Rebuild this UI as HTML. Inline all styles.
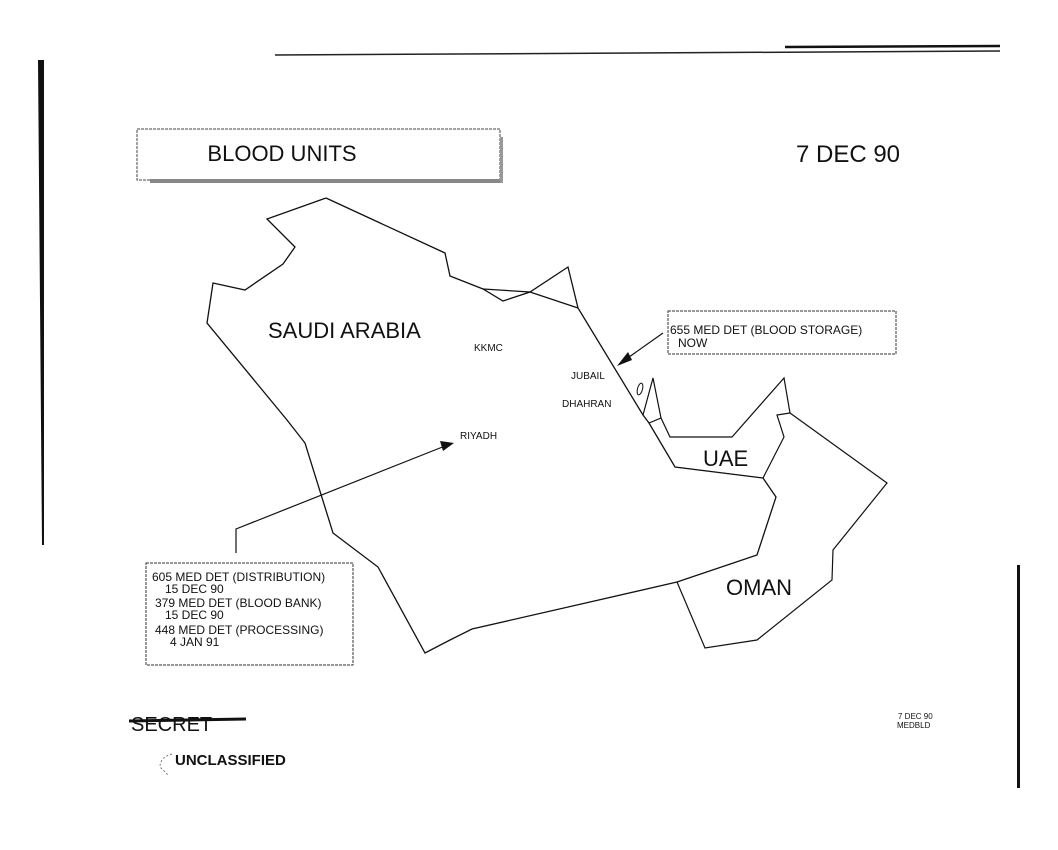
<!DOCTYPE html>
<html><head><meta charset="utf-8"><style>
html,body{margin:0;padding:0;background:#fff;}
svg{display:block;}
text{font-family:"Liberation Sans",Arial,sans-serif;fill:#111;}
</style></head><body>
<svg width="1058" height="850" viewBox="0 0 1058 850" xmlns="http://www.w3.org/2000/svg">
<!-- top line -->
<line x1="275" y1="55" x2="1000" y2="51" stroke="#222" stroke-width="1.5"/>
<line x1="785" y1="47" x2="1000" y2="46" stroke="#111" stroke-width="2.5"/>
<!-- side bars -->
<polygon points="38,60 44,60 44,545 42,545" fill="#111"/>
<rect x="1017" y="565" width="3" height="223" fill="#111"/>
<!-- title box -->
<rect x="137" y="129" width="363" height="51" fill="none" stroke="#444" stroke-width="1" stroke-dasharray="3,1"/>
<rect x="150" y="179" width="352" height="4" fill="#888"/>
<rect x="500" y="137" width="3" height="46" fill="#999"/>
<text x="282" y="161" font-size="22" text-anchor="middle" fill="#333">BLOOD UNITS</text>
<text x="848" y="162" font-size="24" text-anchor="middle">7 DEC 90</text>
<!-- Saudi Arabia -->
<polyline fill="none" stroke="#111" stroke-width="1.3" points="326,198 445,253 450,276 483,289 503,301 530,292 568,267 578,308 643,415 649,423 675,467 763,478 776,497 757,555 677,582 590,602 472,629 450,640 425,653 378,567 333,533 305,443 287,420 207,323 213,283 245,290 283,264 295,247 267,219 326,198"/>
<polyline fill="none" stroke="#111" stroke-width="1.2" points="483,289 530,292 578,308"/>
<!-- Qatar -->
<polyline fill="none" stroke="#111" stroke-width="1.2" points="643,415 653,378 661,418 649,423"/>
<ellipse cx="640" cy="389" rx="2.5" ry="6" fill="none" stroke="#111" stroke-width="1" transform="rotate(15 640 389)"/>
<!-- UAE -->
<polyline fill="none" stroke="#111" stroke-width="1.2" points="661,418 670,437 732,437 784,378 790,413 777,415 784,437 763,478"/>
<!-- Oman -->
<polyline fill="none" stroke="#111" stroke-width="1.2" points="790,413 887,483 833,550 832,580 757,640 705,648 677,582"/>
<!-- labels -->
<text x="268" y="338" font-size="22" fill="#222">SAUDI ARABIA</text>
<text x="474" y="351" font-size="10">KKMC</text>
<text x="571" y="379" font-size="10">JUBAIL</text>
<text x="562" y="407" font-size="10">DHAHRAN</text>
<text x="460" y="439" font-size="10">RIYADH</text>
<text x="703" y="466" font-size="22">UAE</text>
<text x="726" y="595" font-size="22">OMAN</text>
<!-- 655 box -->
<rect x="668" y="311" width="228" height="43" fill="none" stroke="#333" stroke-dasharray="3,1"/>
<text x="670" y="334" font-size="12">655 MED DET (BLOOD STORAGE)</text>
<text x="678" y="347" font-size="12">NOW</text>
<line x1="663" y1="333" x2="622" y2="362" stroke="#111" stroke-width="1.2"/>
<polygon points="617,366 628,352 632,360" fill="#111"/>
<!-- riyadh arrow -->
<polyline fill="none" stroke="#111" stroke-width="1.2" points="236,553 236,529 445,446"/>
<polygon points="454,443 440,441 443,451" fill="#111"/>
<!-- left box -->
<rect x="146" y="563" width="207" height="102" fill="none" stroke="#333" stroke-dasharray="3,1"/>
<text x="152" y="581" font-size="12">605 MED DET (DISTRIBUTION)</text>
<text x="165" y="593" font-size="12">15 DEC 90</text>
<text x="155" y="607" font-size="12">379 MED DET (BLOOD BANK)</text>
<text x="165" y="619" font-size="12">15 DEC 90</text>
<text x="155" y="634" font-size="12">448 MED DET (PROCESSING)</text>
<text x="170" y="646" font-size="12">4 JAN 91</text>
<!-- footer -->
<text x="131" y="731" font-size="20" fill="#222">SECRET</text>
<line x1="129" y1="721" x2="246" y2="719" stroke="#111" stroke-width="3"/>
<text x="175" y="765" font-size="15" font-weight="bold">UNCLASSIFIED</text>
<path d="M172,754 Q160,757 160,767 L168,775" fill="none" stroke="#777" stroke-dasharray="2,2"/>
<text x="898" y="719" font-size="8">7 DEC 90</text>
<text x="897" y="728" font-size="8">MEDBLD</text>
</svg>
</body></html>
